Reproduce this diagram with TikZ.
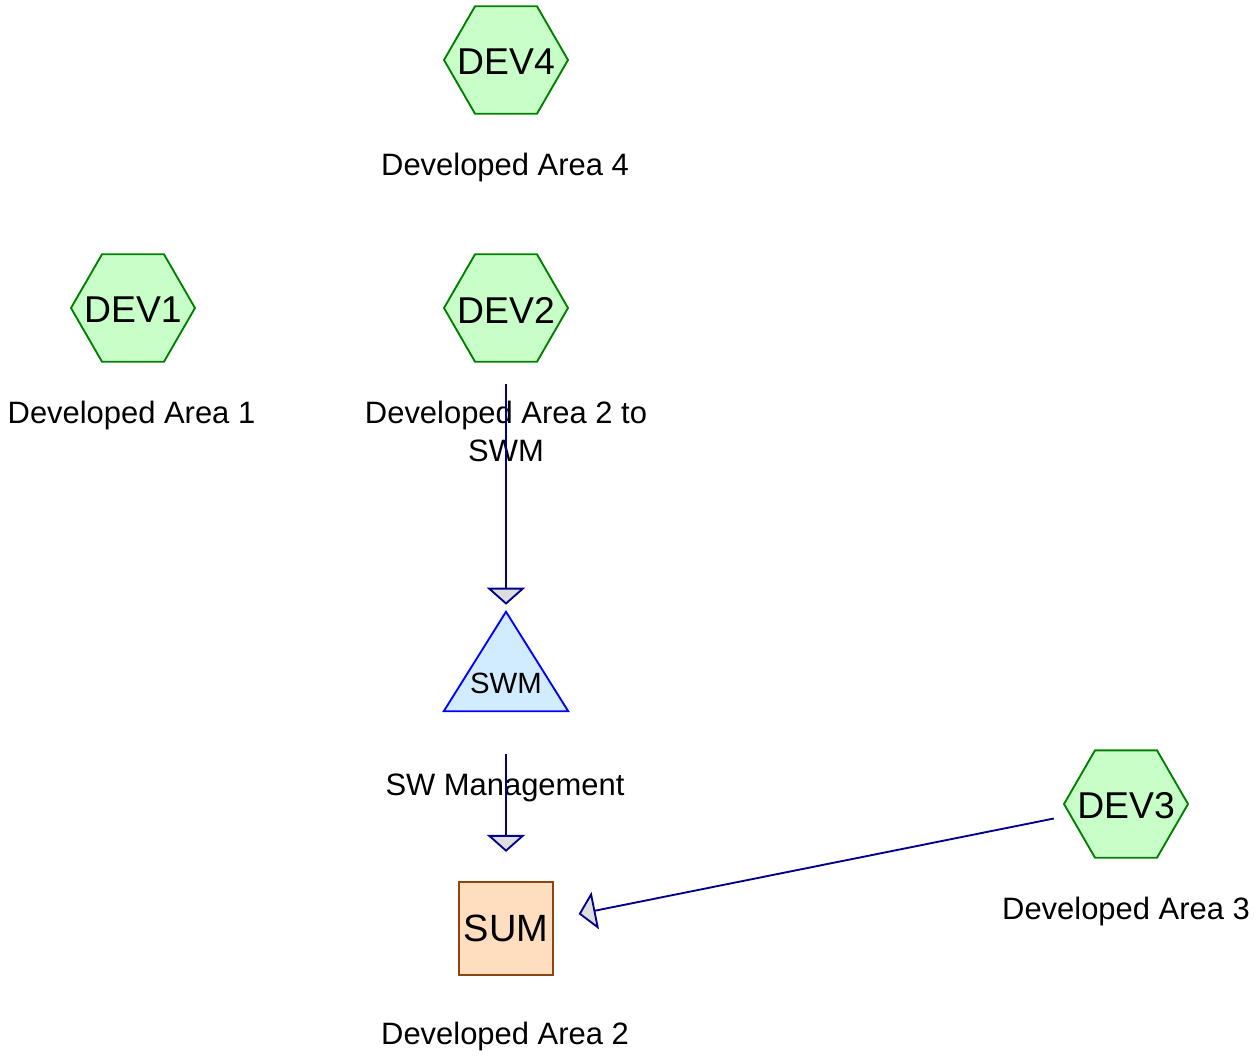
\documentclass[tikz,border=0pt]{standalone}
\usepackage{fontspec}
\setmainfont{Liberation Sans}
\usetikzlibrary{shapes.geometric,arrows.meta}

\definecolor{devfill}{RGB}{200,255,200}
\definecolor{devline}{RGB}{0,128,0}
\definecolor{swmfill}{RGB}{210,236,255}
\definecolor{swmline}{RGB}{0,0,255}
\definecolor{sumfill}{RGB}{255,222,192}
\definecolor{sumline}{RGB}{140,70,20}
\definecolor{linkline}{RGB}{0,0,139}
\definecolor{headfill}{RGB}{222,222,222}

\tikzset{
  devhex/.style={regular polygon, regular polygon sides=6, minimum size=93pt,
    inner sep=0pt, draw=devline, fill=devfill, line width=1.4pt,
    label={[font=\fontsize{28}{30}\selectfont, inner sep=0pt, yshift=-1.5pt]center:#1}},
  sumbox/.style={rectangle, minimum width=70.5pt, minimum height=70pt,
    inner sep=0pt, draw=sumline, fill=sumfill, line width=1.4pt,
    font=\fontsize{28.5}{30}\selectfont},
  swmframe/.style={rectangle, minimum width=93pt, minimum height=74.25pt,
    inner sep=0pt, draw=none},
  swmtri/.style={draw=swmline, fill=swmfill, line width=1.4pt, line join=miter},
  swmtext/.style={font=\fontsize{22}{24}\selectfont, inner sep=0pt},
  caption/.style={anchor=base, inner sep=0pt, align=center,
    font=\fontsize{23.2}{28.5}\selectfont},
  link/.style={draw=linkline, line width=1.4pt,
    -{Triangle[length=12.75pt,width=28.5pt,fill=headfill,line join=miter]}},
}

\begin{document}
\begin{tikzpicture}[x=0.75pt,y=-0.75pt]
  \useasboundingbox (0,0) rectangle (1259,1057);

  % development areas
  \node[devhex=DEV4] (dev4) at (506,60) {};
  \node[devhex=DEV1] (dev1) at (133,308) {};
  \node[devhex=DEV2] (dev2) at (506,308) {};
  \node[devhex=DEV3] (dev3) at (1126,804) {};

  % stormwater management triangle
  \node[swmframe] (swm) at (506,661.5) {};
  \path[swmtri] (swm.south west) -- (swm.south east) -- (swm.north) -- cycle;
  \node[swmtext] (swmlbl) at (506,683) {SWM};

  % summary box
  \node[sumbox] (sum) at (506,928.5) {SUM};

  % captions (base anchor sits on the last line's baseline)
  \node[caption] (cap4) at (505,175) {Developed Area 4};
  \node[caption] (cap1) at (131.5,423) {Developed Area 1};
  \node[caption] (cap2) at (506,461) {Developed Area 2 to\\SWM};
  \node[caption] (capswm) at (505,795) {SW Management};
  \node[caption] (cap3) at (1126,919) {Developed Area 3};
  \node[caption] (capsum) at (505,1044) {Developed Area 2};

  % connectors
  \draw[link, shorten <=15.75pt, shorten >=5.25pt] (dev2.south) -- (swm.north);
  \draw[link, shorten <=32.25pt, shorten >=21.75pt] (swm.south) -- (sum.north);
  \draw[link, shorten <=12pt, shorten >=18.9pt] (dev3) -- (sum);
\end{tikzpicture}
\end{document}
